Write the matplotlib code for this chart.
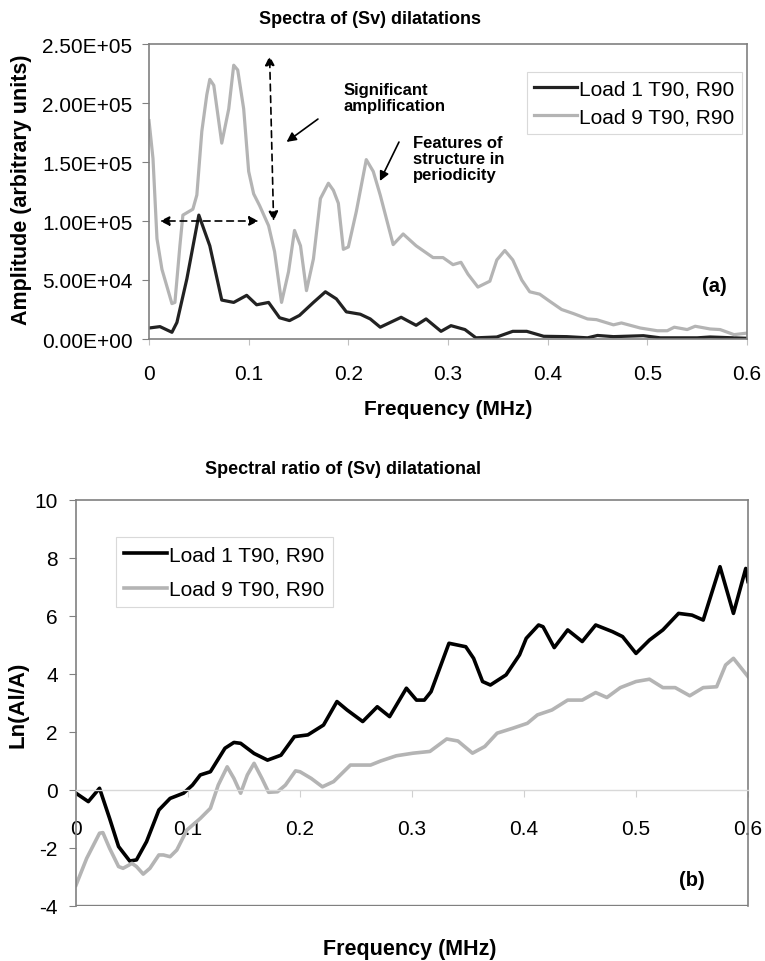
import numpy as np
import matplotlib.pyplot as plt

plt.rcParams['font.family'] = ['Liberation Sans', 'DejaVu Sans']
plt.rcParams['axes.unicode_minus'] = False

# panel (a): spectra amplitudes (x in MHz, amplitude in units of 1e3)
f1_top = [0, 0.011, 0.023, 0.028, 0.038, 0.050, 0.061, 0.073, 0.085, 0.098, 0.108, 0.12,
          0.131, 0.141, 0.151, 0.165, 0.177, 0.188, 0.198, 0.212, 0.222, 0.232, 0.253,
          0.268, 0.278, 0.293, 0.303, 0.317, 0.328, 0.349, 0.365, 0.379, 0.396, 0.419,
          0.44, 0.45, 0.466, 0.496, 0.513, 0.55, 0.563, 0.6]
a1_top = [9.3, 10.5, 5.7, 14, 51, 105, 79, 33, 31, 37, 29, 31,
          18, 15.6, 20, 31, 40, 34, 23, 21, 17, 10, 18.4,
          11.6, 17, 6.5, 11.3, 8, 1, 1.7, 6.5, 6.5, 2.3, 2,
          1, 3, 2, 2.8, 1, 1, 1.7, 0.6]

f9_top = [0, 0.004, 0.008, 0.013, 0.023, 0.026, 0.031, 0.034, 0.044, 0.048, 0.053, 0.058,
          0.061, 0.065, 0.073, 0.08, 0.085, 0.089, 0.095, 0.1, 0.105, 0.111, 0.12,
          0.126, 0.133, 0.14, 0.146, 0.152, 0.158, 0.165, 0.172, 0.18, 0.185, 0.19,
          0.195, 0.2, 0.208, 0.218, 0.225, 0.232, 0.245, 0.255, 0.268, 0.285, 0.295,
          0.305, 0.313, 0.32, 0.33, 0.342, 0.349, 0.357, 0.365, 0.374, 0.382, 0.392,
          0.402, 0.414, 0.426, 0.44, 0.449, 0.466, 0.474, 0.493, 0.51, 0.52, 0.527,
          0.54, 0.548, 0.563, 0.573, 0.587, 0.6]
a9_top = [185, 153, 85, 59, 30, 31, 79, 105, 110, 122, 176, 207,
          220, 215, 166, 195, 232, 228, 195, 142, 123, 113, 96,
          74, 31, 57, 92, 79, 41, 68, 119, 132, 126, 115,
          76, 78, 108, 152, 142, 122, 80, 89, 79, 69, 69,
          63, 65, 55, 44, 49, 67, 75, 67, 50, 40, 38,
          32, 25, 21.5, 17, 16.4, 12, 13.6, 9.3, 7, 7, 10,
          8, 10.8, 8.5, 8, 3.7, 5]

# panel (b): spectral ratio Ln(Al/A)
f1_bot = [0, 0.011, 0.021, 0.03, 0.038, 0.048, 0.054, 0.063, 0.074, 0.084, 0.096, 0.104,
          0.111, 0.12, 0.133, 0.141, 0.147, 0.159, 0.171, 0.183, 0.195, 0.207, 0.221,
          0.233, 0.242, 0.256, 0.269, 0.28, 0.295, 0.304, 0.311, 0.317, 0.333, 0.348,
          0.355, 0.363, 0.37, 0.384, 0.396, 0.402, 0.413, 0.417, 0.427, 0.439, 0.452,
          0.464, 0.479, 0.488, 0.5, 0.512, 0.524, 0.538, 0.55, 0.56, 0.575, 0.587,
          0.598, 0.6]
r1_bot = [-0.11, -0.4, 0.06, -0.98, -1.95, -2.45, -2.41, -1.78, -0.69, -0.29, -0.11, 0.17,
          0.52, 0.63, 1.44, 1.64, 1.61, 1.26, 1.03, 1.2, 1.84, 1.9, 2.24,
          3.05, 2.76, 2.36, 2.87, 2.53, 3.51, 3.1, 3.1, 3.39, 5.06, 4.94,
          4.54, 3.74, 3.62, 3.97, 4.66, 5.23, 5.69, 5.63, 4.91, 5.52, 5.12,
          5.69, 5.46, 5.29, 4.71, 5.17, 5.52, 6.09, 6.03, 5.86, 7.7, 6.09,
          7.64, 7.19]

f9_bot = [0, 0.0095, 0.021, 0.024, 0.03, 0.038, 0.042, 0.05, 0.054, 0.06, 0.066, 0.074,
          0.078, 0.084, 0.09, 0.099, 0.111, 0.12, 0.127, 0.135, 0.141, 0.147, 0.153,
          0.159, 0.166, 0.172, 0.18, 0.187, 0.196, 0.2, 0.21, 0.22, 0.23, 0.245,
          0.263, 0.272, 0.286, 0.301, 0.316, 0.331, 0.341, 0.354, 0.365, 0.376, 0.39,
          0.403, 0.412, 0.425, 0.439, 0.452, 0.464, 0.474, 0.486, 0.5, 0.512, 0.524,
          0.535, 0.548, 0.56, 0.572, 0.58, 0.587, 0.593, 0.6]
r9_bot = [-3.28, -2.36, -1.49, -1.47, -2.01, -2.64, -2.7, -2.53, -2.64, -2.9, -2.7, -2.24,
          -2.24, -2.3, -2.07, -1.38, -0.98, -0.63, 0.17, 0.8, 0.4, -0.11, 0.52,
          0.92, 0.4, -0.08, -0.06, 0.17, 0.66, 0.63, 0.4, 0.11, 0.29, 0.86,
          0.86, 1.0, 1.18, 1.27, 1.33, 1.76, 1.69, 1.27, 1.5, 1.96, 2.13,
          2.3, 2.59, 2.76, 3.1, 3.1, 3.36, 3.19, 3.53, 3.74, 3.82, 3.53,
          3.53, 3.25, 3.53, 3.56, 4.31, 4.54, 4.25, 3.91]

labels = ['Load 1 T90, R90', 'Load 9 T90, R90']
xticks = [0, 0.1, 0.2, 0.3, 0.4, 0.5, 0.6]
xticklabels = ['0', '0.1', '0.2', '0.3', '0.4', '0.5', '0.6']
yticks_top = [0, 50000, 100000, 150000, 200000, 250000]
yticks_bot = [-4, -2, 0, 2, 4, 6, 8, 10]

frame = '#808080'
fig = plt.figure(figsize=(7.65, 9.62), dpi=100)

# ---- panel (a)
ax1 = fig.add_axes([149/765, 1-340/962, 598/765, 295/962])
ax1.plot(f1_top, np.array(a1_top)*1e3, color='#222222', lw=2.3,
         solid_joinstyle='round', label=labels[0])
ax1.plot(f9_top, np.array(a9_top)*1e3, color='#b4b4b4', lw=2.3,
         solid_joinstyle='round', label=labels[1])
ax1.set_xlim(0, 0.6)
ax1.set_ylim(0, 250000)
ax1.set_xticks(xticks)
ax1.set_xticklabels(xticklabels)
ax1.set_yticks(yticks_top)
ax1.set_yticklabels(['{:.2E}'.format(v) for v in yticks_top])
ax1.tick_params(axis='y', length=5, color=frame, labelsize=15, pad=7)
ax1.tick_params(axis='x', length=4, color='#c0c0c0', labelsize=15, pad=14)
for s in ax1.spines.values():
    s.set_color(frame)
    s.set_linewidth(1.2)

ax1.annotate('', xy=(0.011, 1.0e5), xytext=(0.11, 1.0e5),
             arrowprops=dict(arrowstyle='<|-|>', ls=(0, (4, 3)), color='black',
                             lw=1.2, mutation_scale=14, shrinkA=0, shrinkB=0))
ax1.annotate('', xy=(0.121, 2.40e5), xytext=(0.125, 1.0e5),
             arrowprops=dict(arrowstyle='<|-|>', ls=(0, (4, 3)), color='black',
                             lw=1.2, mutation_scale=14, shrinkA=0, shrinkB=0))
ax1.annotate('', xy=(0.138, 1.67e5), xytext=(0.1695, 1.864e5),
             arrowprops=dict(arrowstyle='-|>', color='black', lw=1.2,
                             mutation_scale=14, shrinkA=0, shrinkB=0))
ax1.annotate('', xy=(0.2317, 1.339e5), xytext=(0.2508, 1.669e5),
             arrowprops=dict(arrowstyle='-|>', color='black', lw=1.2,
                             mutation_scale=14, shrinkA=0, shrinkB=0))
fig.text(344/765, 1-83/962, 'Significant\namplification', fontsize=12,
         fontweight='bold', va='top', ha='left', linespacing=1.1)
fig.text(413/765, 1-136/962, 'Features of\nstructure in\nperiodicity', fontsize=12,
         fontweight='bold', va='top', ha='left', linespacing=1.1)
fig.text(714/765, 1-287/962, '(a)', fontsize=14.5, fontweight='bold',
         ha='center', va='center')

leg1 = ax1.legend(loc='upper left', bbox_to_anchor=(527/765, 1-73/962),
                  bbox_transform=fig.transFigure, fontsize=15, frameon=True,
                  fancybox=False, handlelength=2.05, handletextpad=0.1,
                  borderpad=0.35, labelspacing=0.45, borderaxespad=0)
leg1.get_frame().set_edgecolor('#d0d0d0')
leg1.get_frame().set_linewidth(0.8)

fig.text(370/765, 1-20/962, 'Spectra of (Sv) dilatations', fontsize=13,
         fontweight='bold', ha='center', va='center')
fig.text(448/765, 1-410/962, 'Frequency (MHz)', fontsize=15, fontweight='bold',
         ha='center', va='center')
fig.text(22/765, 1-190/962, 'Amplitude (arbitrary units)', fontsize=15.5,
         fontweight='bold', ha='center', va='center', rotation=90)

# ---- panel (b)
ax2 = fig.add_axes([76/765, 1-907/962, 672/765, 406/962])
ax2.plot(f1_bot, r1_bot, color='black', lw=2.6, solid_joinstyle='round',
         label=labels[0])
ax2.plot(f9_bot, r9_bot, color='#b4b4b4', lw=2.6, solid_joinstyle='round',
         label=labels[1])
ax2.set_xlim(0, 0.6)
ax2.set_ylim(-4, 10)
ax2.set_xticks(xticks)
ax2.set_xticklabels(xticklabels)
ax2.set_yticks(yticks_bot)
ax2.spines['bottom'].set_position(('data', 0))
ax2.spines['bottom'].set_color('#d8d8d8')
ax2.spines['bottom'].set_linewidth(1.0)
ax2.set_axisbelow(True)
for k in ['top', 'left', 'right']:
    ax2.spines[k].set_color(frame)
    ax2.spines[k].set_linewidth(1.2)
ax2.axhline(-4, color=frame, lw=2.4, clip_on=True)
ax2.tick_params(axis='y', length=5, color=frame, labelsize=15, pad=8)
ax2.tick_params(axis='x', length=5, color='#d0d0d0', labelsize=15, pad=16)
fig.text(692/765, 1-880/962, '(b)', fontsize=14.5, fontweight='bold',
         ha='center', va='center')

leg2 = ax2.legend(loc='upper left', bbox_to_anchor=(116/765, 1-538/962),
                  bbox_transform=fig.transFigure, fontsize=15, frameon=True,
                  fancybox=False, handlelength=2.05, handletextpad=0.1,
                  borderpad=0.4, labelspacing=0.75, borderaxespad=0)
leg2.get_frame().set_edgecolor('#d0d0d0')
leg2.get_frame().set_linewidth(0.8)

fig.text(343/765, 1-470/962, 'Spectral ratio of (Sv) dilatational', fontsize=13,
         fontweight='bold', ha='center', va='center')
fig.text(410/765, 1-950/962, 'Frequency (MHz)', fontsize=15.5, fontweight='bold',
         ha='center', va='center')
fig.text(18/765, 1-705/962, 'Ln(Al/A)', fontsize=16, fontweight='bold',
         ha='center', va='center', rotation=90)

fig.savefig('out.png', dpi=100)
